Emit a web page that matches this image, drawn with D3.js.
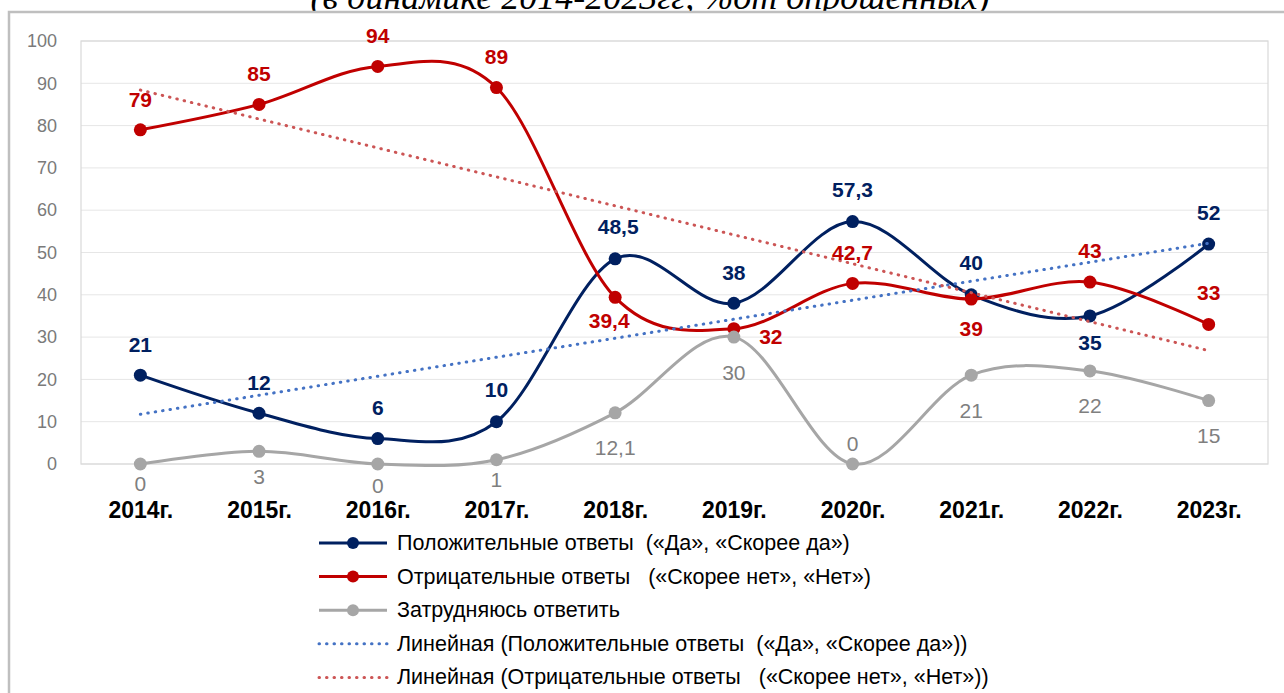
<!DOCTYPE html>
<html>
<head>
<meta charset="utf-8">
<script src="https://cdn.jsdelivr.net/npm/d3@7"></script>
<style>
  html, body { margin: 0; padding: 0; background: #fff; }
  svg { display: block; }
  text { white-space: pre; }
</style>
</head>
<body>
<script>
// chart values
let years = ['2014г.', '2015г.', '2016г.', '2017г.', '2018г.', '2019г.', '2020г.', '2021г.', '2022г.', '2023г.']
let positive = [21, 12, 6, 10, 48.5, 38, 57.3, 40, 35, 52]
let negative = [79, 85, 94, 89, 39.4, 32, 42.7, 39, 43, 33]
let undecided = [0, 3, 0, 1, 12.1, 30, 0, 21, 22, 15]
let yTicks = [0, 10, 20, 30, 40, 50, 60, 70, 80, 90, 100]
let legendLabels = [
  'Положительные ответы  («Да», «Скорее да»)',
  'Отрицательные ответы   («Скорее нет», «Нет»)',
  'Затрудняюсь ответить',
  'Линейная (Положительные ответы  («Да», «Скорее да»))',
  'Линейная (Отрицательные ответы   («Скорее нет», «Нет»))'
]
let titleText = '(в динамике 2014-2023гг, %от опрошенных)'

// label nudges (px) per point, as placed in the original
let posShift = [[0, -31], [0, -31], [0, -31], [0, -32], [3, -32], [0, -31], [0, -32], [0, -32], [0, 27], [0, -32]]
let negShift = [[0, -30], [0, -31], [0, -31], [0, -31], [-6, 23], [37, 8], [0, -31], [0, 29], [0, -32], [0, -32]]
let undShift = [[0, 19], [0, 25], [0, 21], [0, 20], [0, 35], [0, 35], [0, -21], [0, 35], [0, 35], [0, 35]]

let W = 1284
let H = 693
let plot = {left: 81, right: 1268, top: 41, bottom: 464}
let sansFont = "'Liberation Sans', Arial, sans-serif"

let svg = d3.select('body').append('svg')
  .attr('width', W)
  .attr('height', H)

// title, cut off by the top edge as in the source
svg.append('text')
  .attr('x', 650)
  .attr('y', 9)
  .attr('text-anchor', 'middle')
  .style('font-family', "'Liberation Serif', 'Times New Roman', serif")
  .style('font-style', 'italic')
  .style('font-size', '36px')
  .text(titleText)

// outer frame
svg.append('rect')
  .attr('x', 9)
  .attr('y', 12)
  .attr('width', W + 20)
  .attr('height', H + 20)
  .attr('fill', '#fff')
  .attr('stroke', '#bfbfbf')
  .attr('stroke-width', 2.5)

let x = d3.scalePoint()
  .domain(years)
  .range([plot.left, plot.right])
  .padding(0.5)

let y = d3.scaleLinear()
  .domain([0, 100])
  .range([plot.bottom, plot.top])

// grid
svg.append('g')
  .selectAll('line')
  .data(yTicks)
  .join('line')
  .attr('x1', plot.left)
  .attr('x2', plot.right)
  .attr('y1', d => y(d))
  .attr('y2', d => y(d))
  .attr('stroke', '#e6e6e6')
  .attr('stroke-width', 1)

svg.append('rect')
  .attr('x', plot.left)
  .attr('y', plot.top)
  .attr('width', plot.right - plot.left)
  .attr('height', plot.bottom - plot.top)
  .attr('fill', 'none')
  .attr('stroke', '#d9d9d9')
  .attr('stroke-width', 1.2)

// axes
let yAxis = svg.append('g')
  .attr('transform', `translate(${plot.left}, 0)`)
  .call(d3.axisLeft(y).tickValues(yTicks).tickSize(0).tickPadding(24))
yAxis.select('.domain').remove()
yAxis.selectAll('text')
  .style('font-family', sansFont)
  .style('font-size', '18px')
  .attr('fill', '#7a7a7a')

let xAxis = svg.append('g')
  .attr('transform', `translate(0, ${plot.bottom})`)
  .call(d3.axisBottom(x).tickSize(0).tickPadding(38))
xAxis.select('.domain').remove()
xAxis.selectAll('text')
  .style('font-family', sansFont)
  .style('font-size', '23px')
  .style('font-weight', 'bold')
  .attr('fill', '#000')

let fmt = v => String(v).replace('.', ',')

let seriesList = [
  {values: positive, color: '#002060', labelColor: '#002060', weight: 'bold', shift: posShift},
  {values: negative, color: '#c00000', labelColor: '#c00000', weight: 'bold', shift: negShift},
  {values: undecided, color: '#a6a6a6', labelColor: '#7f7f7f', weight: 'normal', shift: undShift},
]

let line = d3.line()
  .x((d, i) => x(years[i]))
  .y(d => y(d))
  .curve(d3.curveCardinal.tension(0))

let seriesG = svg.append('g')
for (let s of seriesList) {
  let g = seriesG.append('g')
  g.append('path')
    .datum(s.values)
    .attr('d', line)
    .attr('fill', 'none')
    .attr('stroke', s.color)
    .attr('stroke-width', 3)
  g.selectAll('circle')
    .data(s.values)
    .join('circle')
    .attr('cx', (d, i) => x(years[i]))
    .attr('cy', d => y(d))
    .attr('r', 6.5)
    .attr('fill', s.color)
}

// linear trendlines (least squares over the series, as Excel does)
function trend (values) {
  let xs = values.map((d, i) => i + 1)
  let mx = d3.mean(xs)
  let my = d3.mean(values)
  let num = d3.sum(values, (d, i) => (xs[i] - mx) * (d - my))
  let den = d3.sum(xs, v => (v - mx) * (v - mx))
  let slope = num / den
  return values.map((d, i) => my + slope * (xs[i] - mx))
}
let trendList = [
  {values: trend(positive), color: '#4472c4'},
  {values: trend(negative), color: '#cc5555'},
]
let last = years.length - 1
for (let t of trendList) {
  svg.append('line')
    .attr('x1', x(years[0]))
    .attr('y1', y(t.values[0]))
    .attr('x2', x(years[last]))
    .attr('y2', y(t.values[last]))
    .attr('stroke', t.color)
    .attr('stroke-width', 3)
    .attr('stroke-linecap', 'round')
    .attr('stroke-dasharray', '0.5,7')
}

// data labels
let labelG = svg.append('g')
for (let s of [seriesList[2], seriesList[0], seriesList[1]]) {
  labelG.append('g')
    .selectAll('text')
    .data(s.values)
    .join('text')
    .attr('x', (d, i) => x(years[i]) + s.shift[i][0])
    .attr('y', (d, i) => y(d) + s.shift[i][1])
    .attr('text-anchor', 'middle')
    .attr('dominant-baseline', 'central')
    .style('font-family', sansFont)
    .style('font-size', '21px')
    .style('font-weight', s.weight)
    .attr('fill', s.labelColor)
    .text(d => fmt(d))
}

// legend
let legendItems = [
  {label: legendLabels[0], color: '#002060', dotted: false},
  {label: legendLabels[1], color: '#c00000', dotted: false},
  {label: legendLabels[2], color: '#a6a6a6', dotted: false},
  {label: legendLabels[3], color: '#4472c4', dotted: true},
  {label: legendLabels[4], color: '#cc5555', dotted: true},
]
let legend = svg.append('g')
  .attr('transform', 'translate(319, 543)')
legendItems.forEach((item, i) => {
  let row = legend.append('g').attr('transform', `translate(0, ${i * 33.6})`)
  row.append('line')
    .attr('x1', 0)
    .attr('x2', 68)
    .attr('stroke', item.color)
    .attr('stroke-width', 3)
    .attr('stroke-linecap', item.dotted ? 'round' : 'butt')
    .attr('stroke-dasharray', item.dotted ? '0.5,7' : null)
  if (!item.dotted) {
    row.append('circle')
      .attr('cx', 34)
      .attr('r', 6)
      .attr('fill', item.color)
  }
  row.append('text')
    .attr('x', 78)
    .attr('dominant-baseline', 'central')
    .style('font-family', sansFont)
    .style('font-size', '21.5px')
    .attr('fill', '#000')
    .text(item.label)
})
</script>
</body>
</html>
